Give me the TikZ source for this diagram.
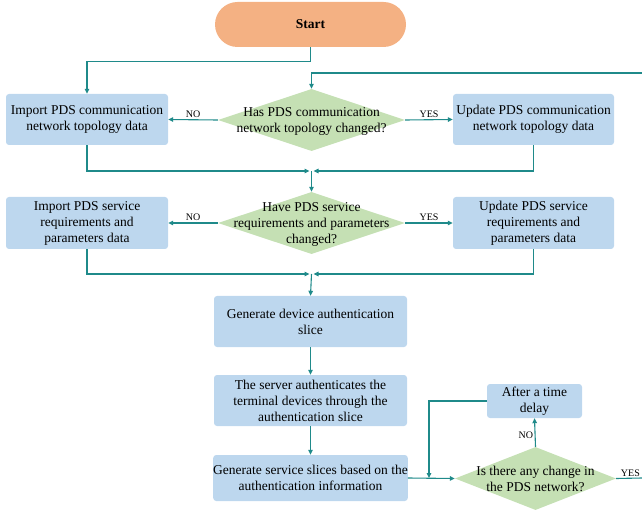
\documentclass[tikz,border=0pt]{standalone}
\usepackage{fontspec}
\setmainfont{Liberation Serif}
\usetikzlibrary{shapes.geometric,arrows.meta}
\definecolor{boxblue}{HTML}{BDD7EE}
\definecolor{decgreen}{HTML}{C5E0B4}
\definecolor{startorange}{HTML}{F4B183}
\definecolor{flowteal}{HTML}{1F8A8A}
\tikzset{
  txt/.style={font=\fontsize{13.5}{16}\selectfont, align=center},
  procbox/.style={txt, rectangle, rounded corners=3pt, fill=boxblue, inner sep=0pt},
  decision/.style={diamond, fill=decgreen, inner sep=0pt},
  dlabel/.style={txt, inner sep=0pt},
  lbl/.style={font=\fontsize{10}{11}\selectfont, inner sep=1.5pt},
  flow/.style={draw=flowteal, line width=1.1pt},
  arr/.style={flow, -{Triangle[length=5pt,width=4.5pt]}},
}
\begin{document}
\begin{tikzpicture}[x=1pt,y=-1pt]
\useasboundingbox (0,0) rectangle (642,510);

% terminal
\node[txt, fill=startorange, rounded corners=22.5pt, minimum width=191pt, minimum height=45pt, inner sep=0pt, font=\fontsize{13.5}{16}\selectfont\bfseries] (start) at (310.5,24.5) {Start};

% topology check
\node[decision, minimum width=187pt, minimum height=62pt] (d1) at (311.5,120) {};
\node[dlabel] (d1t) at (311.5,121) {Has PDS communication\\network topology changed?};
\node[procbox, minimum width=162pt, minimum height=51pt] (imp1) at (87,119.5) {Import PDS communication\\network topology data};
\node[procbox, minimum width=161pt, minimum height=51pt] (upd1) at (533.5,119.5) {Update PDS communication\\network topology data};

% service check
\node[decision, minimum width=187pt, minimum height=62pt] (d2) at (311.5,223) {};
\node[dlabel] (d2t) at (311.5,224) {Have PDS service\\requirements and parameters\\changed?};
\node[procbox, minimum width=162pt, minimum height=52pt] (imp2) at (87,223) {Import PDS service\\requirements and\\parameters data};
\node[procbox, minimum width=161pt, minimum height=52pt] (upd2) at (533.5,223) {Update PDS service\\requirements and\\parameters data};

% slicing steps
\node[procbox, minimum width=193pt, minimum height=51pt] (gen) at (310.5,321.5) {Generate device authentication\\slice};
\node[procbox, minimum width=193pt, minimum height=51pt] (auth) at (310.5,400.5) {The server authenticates the\\terminal devices through the\\authentication slice};
\node[procbox, minimum width=193pt, minimum height=46pt] (svc) at (310.5,478) {Generate service slices based on the\\authentication information};

% monitoring loop
\node[decision, minimum width=161pt, minimum height=63pt] (d3) at (535.5,478.5) {};
\node[dlabel] (d3t) at (535.5,479) {Is there any change in\\the PDS network?};
\node[procbox, minimum width=95pt, minimum height=34pt] (delay) at (534.5,401) {After a time\\delay};

% helper points
\coordinate (loopin) at (642,73);
\coordinate (m1) at (311.5,171);
\coordinate (m2) at (311.5,274);
\coordinate (join) at (429,478);
\coordinate (yesout) at (642,478);

% connectors
\draw[arr] (start.south) -- ++(0,14) -| (imp1.north);
\draw[arr] (loopin) -| (d1.north);
\draw[arr] (d1.west) -- node[lbl, above] {NO} (imp1.east);
\draw[arr] (d1.east) -- node[lbl, above] {YES} (upd1.west);
\draw[arr, shorten >=2pt] (imp1.south) |- (m1);
\draw[arr, shorten >=2pt] (upd1.south) |- (m1);
\draw[arr] (m1) -- (d2.north);

\draw[arr] (d2.west) -- node[lbl, above] {NO} (imp2.east);
\draw[arr] (d2.east) -- node[lbl, above] {YES} (upd2.west);
\draw[arr, shorten >=2pt] (imp2.south) |- (m2);
\draw[arr, shorten >=2pt] (upd2.south) |- (m2);
\draw[arr] (m2) -- (gen.north);

\draw[arr] (gen.south) -- (auth.north);
\draw[arr] (auth.south) -- (svc.north);
\draw[arr] (svc.east) -- (d3.west);
\draw[arr] (d3.north) -- node[lbl, left, pos=0.4] {NO} (delay.south);
\draw[arr] (delay.west) -| (join);
\draw[flow] (d3.east) -- node[lbl, above, pos=0.55] {YES} (yesout);
\end{tikzpicture}
\end{document}
